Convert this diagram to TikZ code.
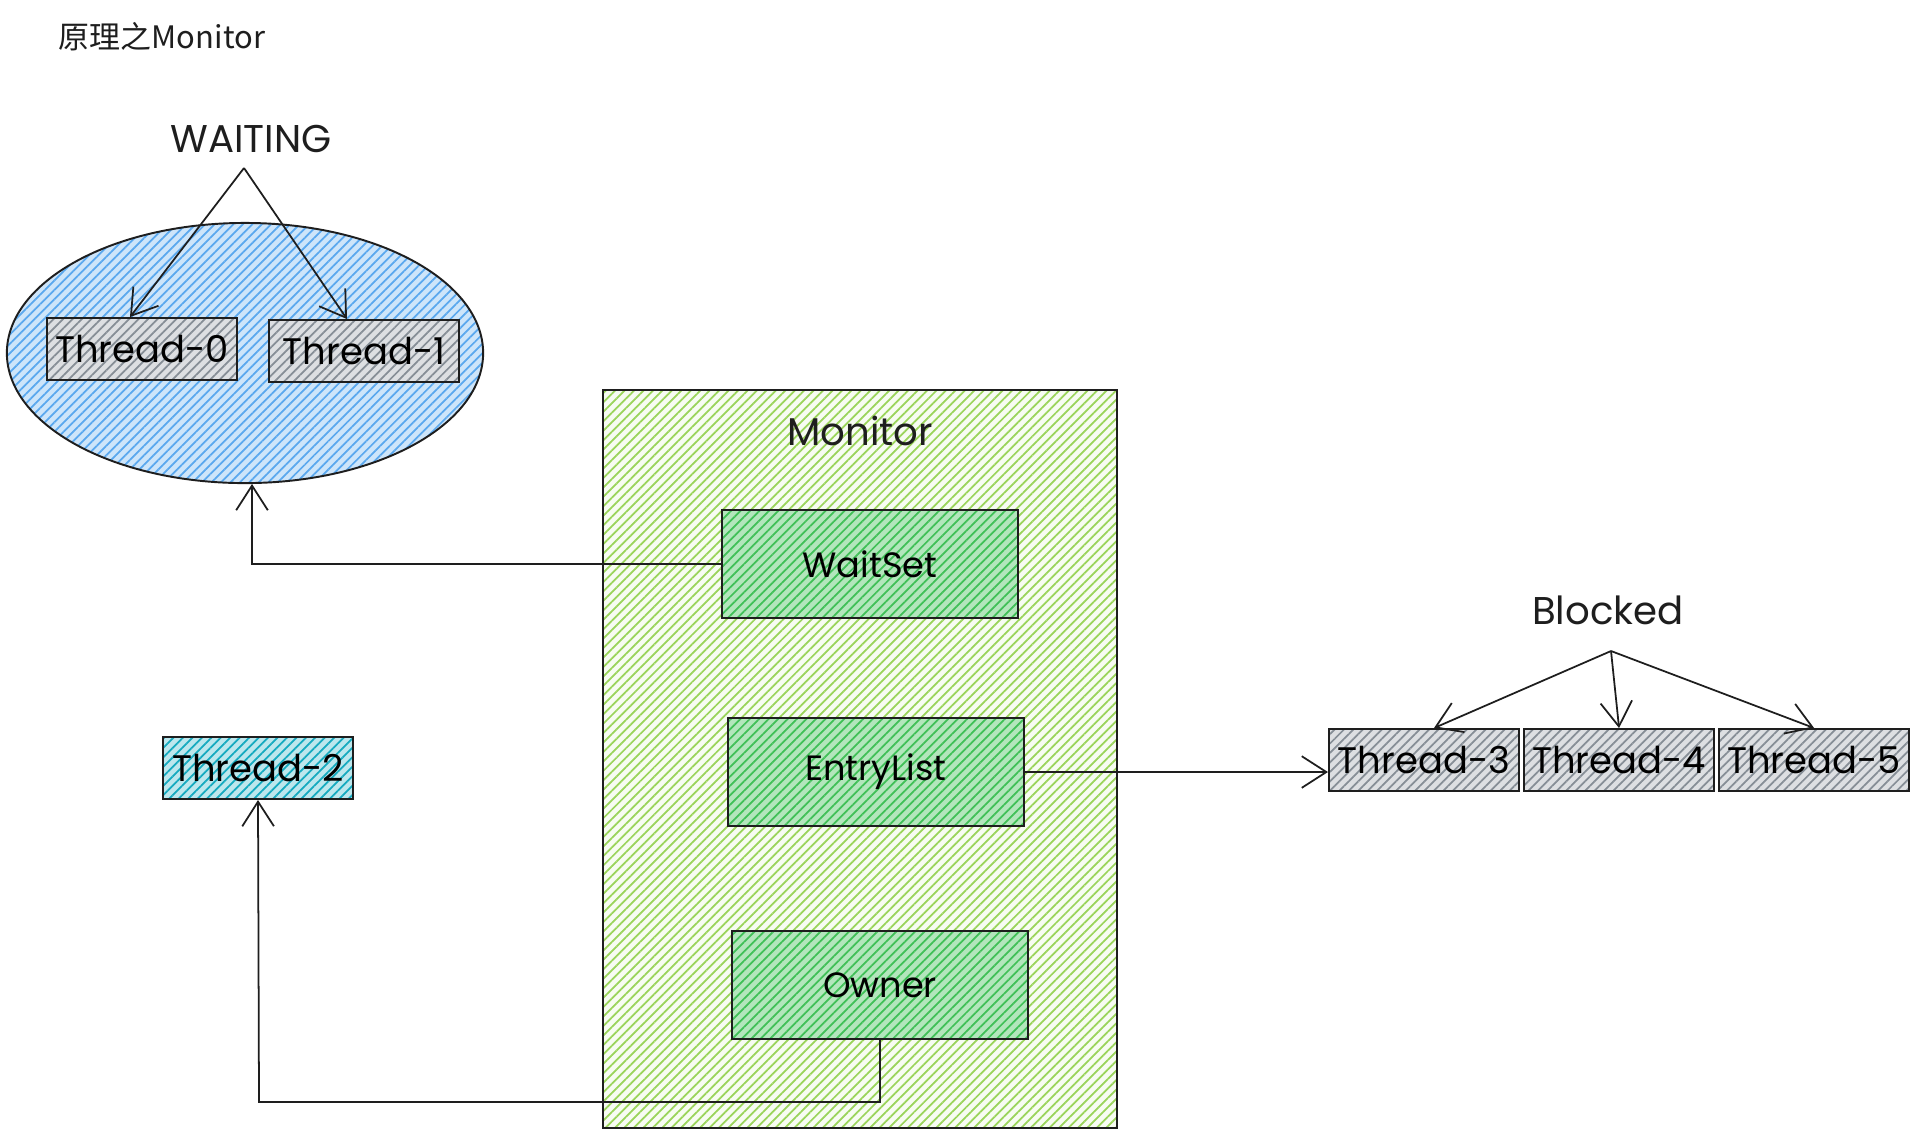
\documentclass[tikz,border=0pt]{standalone}
\usepackage{fontspec}
\setsansfont{Poppins}
\newfontfamily\cjkfont{Noto Sans CJK SC}
\usetikzlibrary{arrows.meta,positioning,shapes.geometric,patterns.meta}
\definecolor{waitblue}{HTML}{5AA8EE}
\definecolor{monitorgreen}{HTML}{9AD45A}
\definecolor{slotgreen}{HTML}{40C057}
\definecolor{threadgray}{HTML}{868E96}
\definecolor{runcyan}{HTML}{15AABF}
\definecolor{inkgray}{HTML}{1E1E1E}

\begin{document}
\begin{tikzpicture}[
    x=0.01cm, y=-0.01cm,
    >={Straight Barb[length=7pt,width=9pt]},
    font=\sffamily,
    hachure/.style 2 args={pattern={Lines[angle=45,distance=1.9pt,line width=0.5pt]},
        pattern color=#1, preaction={fill=#1!#2}},
    threadbox/.style={draw=inkgray, line width=0.55pt, hachure={#1}{28},
        minimum width=1.9cm, minimum height=0.62cm, inner sep=0pt,
        font=\sffamily\fontsize{10.5}{12}\selectfont},
    threadbox/.default=threadgray,
    slotbox/.style={draw=inkgray, line width=0.55pt, hachure={slotgreen}{40},
        minimum width=2.96cm, minimum height=1.08cm, inner sep=0pt,
        font=\sffamily\fontsize{10}{12}\selectfont},
    link/.style={->, inkgray, line width=0.5pt},
    caption/.style={font=\sffamily\fontsize{11}{13}\selectfont, text=inkgray},
]
\useasboundingbox (0,0) rectangle (1925,1138);

% =====================================================
% Title
% =====================================================
\node[font=\cjkfont\fontsize{8.8}{10}\selectfont, text=inkgray] (title)
    at (162,37) {原理之Monitor};

% =====================================================
% WAITING pool (ellipse, upper left)
% =====================================================
\node[ellipse, draw=inkgray, line width=0.55pt, hachure={waitblue}{30},
    minimum width=4.76cm, minimum height=2.6cm, inner sep=0pt]
    (waitpool) at (245,353) {};

\node[threadbox] (t0) at (142,349) {Thread-0};
\node[threadbox] (t1) at (364,351) {Thread-1};

\node[caption] (waiting) at (251,139) {WAITING};
\coordinate (waitfork) at (244,168);
\draw[link] (waitfork) -- ([xshift=-0.12cm]t0.north);
\draw[link] (waitfork) -- ([xshift=-0.17cm]t1.north);

% =====================================================
% Monitor box (middle)
% =====================================================
\node[draw=inkgray, line width=0.55pt, hachure={monitorgreen}{8},
    minimum width=5.14cm, minimum height=7.37cm]
    (monitor) at (860,759) {};
\node[caption] (monitorlabel) at ([yshift=-0.42cm]monitor.north) {Monitor};

\node[slotbox] (waitset) at (870,564) {WaitSet};
\node[slotbox] (entrylist) at (876,772) {EntryList};
\node[slotbox] (owner) at (880,985) {Owner};

% =====================================================
% Running thread (lower left)
% =====================================================
\node[threadbox=runcyan] (t2) at (258,768) {Thread-2};

% =====================================================
% Blocked threads (right)
% =====================================================
\node[threadbox] (t3) at (1424,760) {Thread-3};
\node[threadbox, right=0.03cm of t3] (t4) {Thread-4};
\node[threadbox, right=0.03cm of t4] (t5) {Thread-5};

\node[caption] (blocked) at (1608,610) {Blocked};
\coordinate (blockfork) at (1611,651);
\draw[link] (blockfork) -- ([xshift=0.1cm]t3.north);
\draw[link] (blockfork) -- (t4.north);
\draw[link] (blockfork) -- (t5.north);

% =====================================================
% Arrows: Monitor slots -> thread groups
% =====================================================
\draw[link] (waitset.west) -| ([xshift=0.07cm]waitpool.south);
\draw[link] (entrylist.east) -- (entrylist.east -| t3.west);

\coordinate (ownerturn) at (259,1102);
\draw[link] (owner.south) |- (ownerturn) -- (t2.south);

\end{tikzpicture}
\end{document}
